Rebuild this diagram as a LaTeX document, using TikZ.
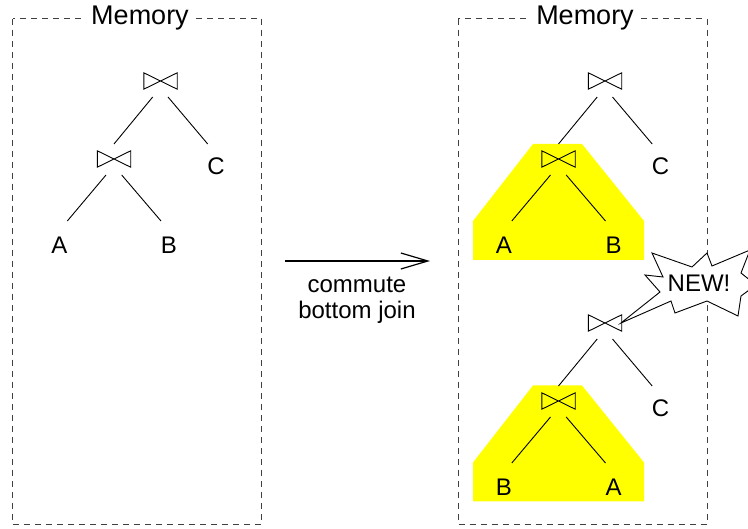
\documentclass[tikz,border=0pt]{standalone}
\usepackage{fontspec}
\setmainfont{Liberation Sans}
\usetikzlibrary{arrows.meta}
\definecolor{hilitecol}{RGB}{255,255,0}
\tikzset{
  memframe/.style={draw=black!75, line width=1pt, dash pattern=on 6pt off 5pt},
  memlabel/.style={fill=white, inner xsep=6pt, inner ysep=2pt, font=\fontsize{27}{30}\selectfont},
  joinbox/.style={minimum width=33pt, minimum height=16pt, inner sep=0pt},
  joinline/.style={line width=0.9pt, line join=miter},
  leaf/.style={inner sep=0pt, font=\fontsize{24}{26}\selectfont},
  branch/.style={line width=0.9pt},
  hilite/.style={fill=hilitecol, draw=none},
  burst/.style={draw, fill=white, line width=0.9pt, line join=miter},
}
% join operator: an empty box with the bow-tie drawn over it
\newcommand\joinop[2]{%
  \node[joinbox] (#1) at (#2) {};
  \draw[joinline] (#1.north west) -- (#1.south east) -- (#1.north east)
    -- (#1.south west) -- cycle;}
\begin{document}
\begin{tikzpicture}[x=1pt, y=-1pt]
\useasboundingbox (0,0) rectangle (748,529);
\clip (0,0) rectangle (748,529);

% highlighted subtrees
\fill[hilite] (533,144) -- (582,144) -- (644,221) -- (644,260) -- (473,260) -- (473,221) -- cycle;
\fill[hilite] (533,385.5) -- (582,385.5) -- (644,462.5) -- (644,501.5) -- (473,501.5) -- (473,462.5) -- cycle;

% memory frames
\draw[memframe] (12.5,19) rectangle (261.5,524.5);
\draw[memframe] (458,19) rectangle (707,524.5);
\node[memlabel] (memL) at (140,18) {Memory};
\node[memlabel] (memR) at (585,18) {Memory};

% ---- left plan: (A join B) join C
\joinop{lj0}{160.5,81}
\joinop{lj1}{114,159}
\node[leaf] (lc) at (216,166) {C};
\node[leaf] (la) at (59.5,245) {A};
\node[leaf] (lb) at (169,245) {B};
\draw[branch] ([xshift=-7.8pt,yshift=-16pt]lj0.center) -- ([yshift=15pt]lj1.center);
\draw[branch] ([xshift=7.5pt,yshift=-16pt]lj0.center) -- ([xshift=-8.3pt,yshift=22pt]lc.center);
\draw[branch] ([xshift=-8pt,yshift=-16pt]lj1.center) -- ([xshift=7.8pt,yshift=24pt]la.center);
\draw[branch] ([xshift=7.7pt,yshift=-16pt]lj1.center) -- ([xshift=-8pt,yshift=24pt]lb.center);

% ---- transformation arrow
\coordinate (arrS) at (285,261);
\coordinate (arrE) at (430,261);
\draw[line width=1.2pt, -{Straight Barb[length=27pt, width=16pt, line width=1.2pt]}] (arrS) -- (arrE);
\node[leaf, align=center] (arrtxt) at (357,300) {commute\\bottom join};

% ---- right plan, original: (A join B) join C
\joinop{rj0}{605,81}
\joinop{rj1}{558.5,159}
\node[leaf] (rc) at (660.5,166) {C};
\node[leaf] (ra) at (504,245) {A};
\node[leaf] (rb) at (613.5,245) {B};
\draw[branch] ([xshift=-7.8pt,yshift=-16pt]rj0.center) -- ([yshift=15pt]rj1.center);
\draw[branch] ([xshift=7.5pt,yshift=-16pt]rj0.center) -- ([xshift=-8.3pt,yshift=22pt]rc.center);
\draw[branch] ([xshift=-8pt,yshift=-16pt]rj1.center) -- ([xshift=7.8pt,yshift=24pt]ra.center);
\draw[branch] ([xshift=7.7pt,yshift=-16pt]rj1.center) -- ([xshift=-8pt,yshift=24pt]rb.center);

% ---- right plan, new: (B join A) join C
\joinop{nj0}{605,323}
\joinop{nj1}{558.5,401}
\node[leaf] (nc) at (660.5,408) {C};
\node[leaf] (nb) at (504,487) {B};
\node[leaf] (na) at (613.5,487) {A};
\draw[branch] ([xshift=-7.8pt,yshift=-16pt]nj0.center) -- ([yshift=15pt]nj1.center);
\draw[branch] ([xshift=7.5pt,yshift=-16pt]nj0.center) -- ([xshift=-8.3pt,yshift=22pt]nc.center);
\draw[branch] ([xshift=-8pt,yshift=-16pt]nj1.center) -- ([xshift=7.8pt,yshift=24pt]nb.center);
\draw[branch] ([xshift=7.7pt,yshift=-16pt]nj1.center) -- ([xshift=-8pt,yshift=24pt]na.center);

% ---- "NEW!" callout pointing at the new join
\coordinate (tailtip) at ([xshift=16pt]nj0.center);
\draw[burst] (652,253) -- (692,267) -- (707,253) -- (712,266) -- (750,250)
  -- (741,273) -- (756,285) -- (741,296) -- (738,316) -- (707,301)
  -- (675,313) -- (671,301) -- (tailtip) -- (660,292) -- (645,275)
  -- (663,277) -- cycle;
\node[leaf] (newtxt) at (699,283) {NEW!};
\end{tikzpicture}
\end{document}
